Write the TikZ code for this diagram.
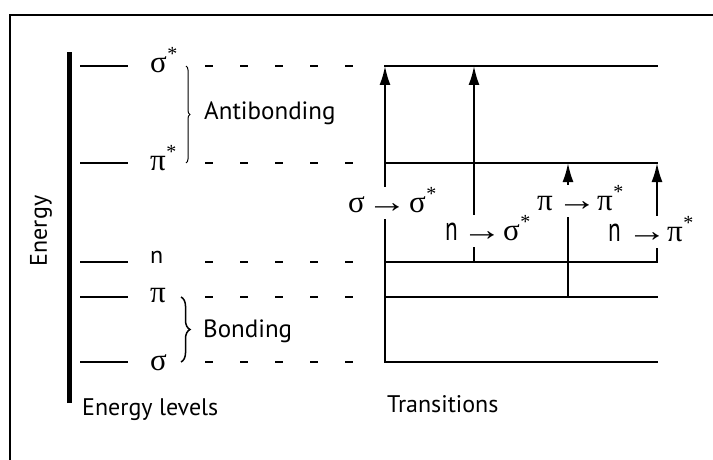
\documentclass[tikz,border=0pt]{standalone}
\usepackage{fontspec}
\setmainfont{PT Sans}
\newfontfamily\gk{Liberation Serif}
\usetikzlibrary{arrows.meta,decorations.pathreplacing}
\begin{document}
\begin{tikzpicture}[x=1pt,y=-1pt,
  frame/.style={line width=2pt},
  lvl/.style={line width=2pt},
  dash lvl/.style={line width=2pt,dash pattern=on 8pt off 27pt},
  trans/.style={line width=2pt},
  up arrow/.style={line width=2pt,-{Latex[length=19pt,width=11pt]}},
  word/.style={font=\fontsize{25}{30}\selectfont,anchor=base west,inner sep=0pt},
  gklab/.style={font=\gk\fontsize{31}{32}\selectfont,anchor=base west,inner sep=0pt},
  tlab/.style={font=\fontsize{31}{32}\selectfont,anchor=base west,inner sep=0pt,text height=25pt,text depth=7pt}]
\useasboundingbox (0,0) rectangle (713,460);
\newcommand{\ngl}{\scalebox{0.75}[1.1]{n}}
\newcommand{\arr}{\scalebox{1.3}[1]{\gk →}}
\newcommand{\st}{\kern0.5pt\raisebox{12pt}{\fontsize{20}{20}\selectfont\gk *}}
% frame
\coordinate (fr1) at (713,15);
\coordinate (fr2) at (10,15);
\coordinate (fr3) at (10,460);
\draw[frame] (fr1) -- (fr2) -- (fr3);
% energy axis
\coordinate (ax0) at (69,403);
\coordinate (ax1) at (69,52);
\draw[line width=5pt] (ax0) -- (ax1);
\node[font=\fontsize{24}{26}\selectfont,rotate=90,inner sep=0pt] (energy) at (41,231) {Energy};
% level lines
\foreach \n/\y in {ss/66,ps/163,n/262,p/297,s/362}{
  \coordinate (La\n) at (80,\y);
  \coordinate (Lb\n) at (128,\y);
  \draw[lvl] (La\n) -- (Lb\n);
  \coordinate (Da\n) at (205,\y);
  \coordinate (Db\n) at (360,\y);
  \draw[dash lvl] (Da\n) -- (Db\n);
  \coordinate (Ta\n) at (384,\y);
  \coordinate (Tb\n) at (658,\y);
  \draw[trans] (Ta\n) -- (Tb\n);
}
% level labels
\node[gklab] (lss) at (150,73) {σ\st};
\node[gklab] (lps) at (150,170) {π\st};
\node[gklab,font=\fontsize{24}{26}\selectfont] (ln) at (150,263) {n};
\node[gklab] (lp) at (150,302) {π};
\node[gklab] (ls) at (150,370) {σ};
% braces
\coordinate (b1a) at (186,66);
\coordinate (b1b) at (186,163);
\draw[line width=1pt,decorate,decoration={brace,amplitude=4pt}] (b1a) -- (b1b);
\node[word] (anti) at (204,120) {Antibonding};
\coordinate (b2a) at (181,297);
\coordinate (b2b) at (181,362);
\draw[line width=1.5pt,decorate,decoration={brace,amplitude=9pt}] (b2a) -- (b2b);
\node[word] (bond) at (203,337) {Bonding};
% bottom captions
\node[word,font=\fontsize{24}{26}\selectfont] (elev) at (82,415) {Energy levels};
\node[word,font=\fontsize{24}{26}\selectfont] (tr) at (387,412) {Transitions};
% transitions
\node[tlab] (t1) at (348,212) {{\gk σ}\hspace{2pt}\arr\hspace{2pt}{\gk σ}\st};
\node[tlab] (t2) at (445,240) {\ngl\hspace{4pt}\arr\hspace{1pt}{\gk σ}\st};
\node[tlab] (t3) at (537,210) {{\gk π}\hspace{4pt}\arr\hspace{0pt}{\gk π}\st};
\node[tlab] (t4) at (608,241) {\ngl\hspace{6pt}\arr\hspace{0pt}{\gk π}\st};
\coordinate (x1) at (385,0);
\coordinate (x2) at (474,0);
\coordinate (x3) at (568,0);
\coordinate (x4) at (657,0);
\draw[trans] (x1 |- Tas) -- (x1 |- t1.south);
\draw[up arrow] (x1 |- t1.north) -- (x1 |- Tass);
\draw[trans] (x2 |- Tan) -- (x2 |- t2.south);
\draw[up arrow] (x2 |- t2.north) -- (x2 |- Tass);
\draw[trans] (x3 |- Tap) -- (x3 |- t3.south);
\draw[up arrow] (x3 |- t3.north) -- (x3 |- Taps);
\draw[trans] (x4 |- Tan) -- (x4 |- t4.south);
\draw[up arrow] (x4 |- t4.north) -- (x4 |- Taps);
\end{tikzpicture}
\end{document}
